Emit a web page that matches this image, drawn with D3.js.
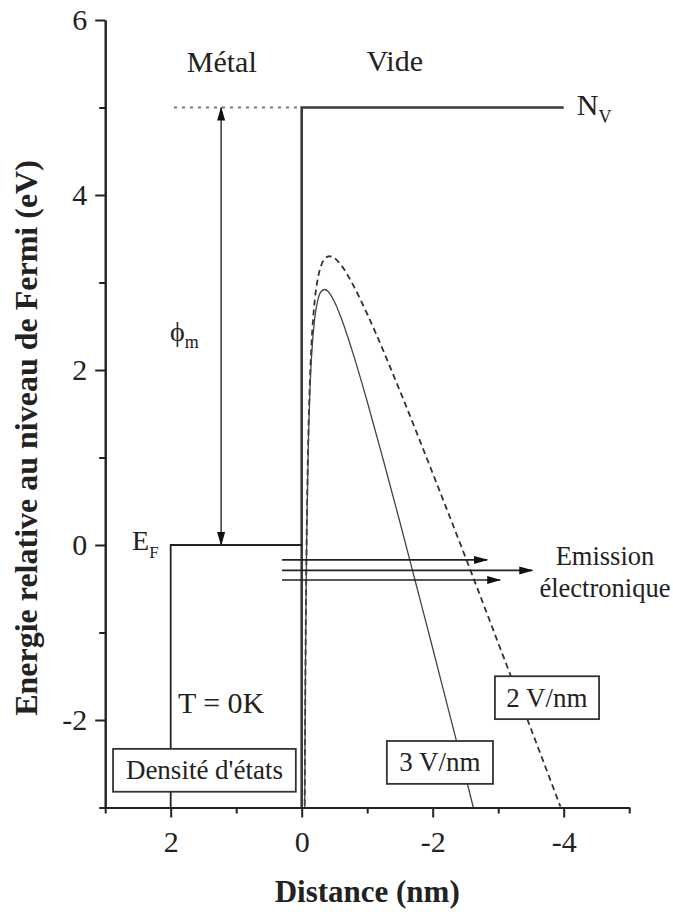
<!DOCTYPE html>
<html>
<head>
<meta charset="utf-8">
<script src="https://cdn.jsdelivr.net/npm/d3@7"></script>
<style>
    body { margin: 0; background: #fff; }
    svg { display: block; }
    svg text { font-family: "Liberation Serif", Tinos, "Times New Roman", Times, "Nimbus Roman", "DejaVu Serif", serif; fill: #222; }
    .axis path, .axis line { stroke: #222; stroke-width: 2; }
    .axis text { font-size: 30px; }
</style>
</head>
<body>
<svg id="chart" width="673" height="912"></svg>
<script>
// axis ticks
const xMajorTicks = [2, 0, -2, -4];
const xMinorTicks = [3, 1, -1, -3, -5];
const yMajorTicks = [-2, 0, 2, 4, 6];
const yMinorTicks = [-3, -1, 1, 3, 5];

// band diagram, [distance nm, energy eV]
const dottedLevel = [[1.95, 5], [0, 5]];
const vacuumStep = [[0, -3], [0, 5], [-4, 5]];
const fermiStep = [[2, -3], [2, 0], [0, 0]];
const phiArrow = [[1.23, 5], [1.23, 0]];

// emission arrows: energy, start, end
const emissionArrows = [
    {e: -0.17, from: 0.3, to: -2.83},
    {e: -0.29, from: 0.3, to: -3.52},
    {e: -0.40, from: 0.3, to: -3.03}
];

// barrier for 3 V/nm (solid)
const barrier3 = [
    [-0.045, -3.14], [-0.05, -2.35], [-0.06, -1.18], [-0.07, -0.35], [-0.08, 0.26],
    [-0.1, 1.10], [-0.125, 1.75], [-0.15, 2.15], [-0.2, 2.60], [-0.25, 2.81],
    [-0.3, 2.90], [-0.35, 2.92], [-0.4, 2.90], [-0.5, 2.78], [-0.6, 2.60],
    [-0.8, 2.15], [-1.0, 1.64], [-1.25, 0.96], [-1.5, 0.26], [-1.75, -0.46],
    [-2.0, -1.18], [-2.25, -1.91], [-2.5, -2.64], [-2.62, -3.0]
];

// barrier for 2 V/nm (dashed)
const barrier2 = [
    [-0.045, -3.09], [-0.05, -2.30], [-0.06, -1.12], [-0.07, -0.28], [-0.08, 0.34],
    [-0.1, 1.20], [-0.125, 1.87], [-0.15, 2.30], [-0.2, 2.80], [-0.25, 3.06],
    [-0.3, 3.20], [-0.35, 3.27], [-0.42, 3.30], [-0.5, 3.28], [-0.6, 3.20],
    [-0.8, 2.95], [-1.0, 2.64], [-1.5, 1.76], [-2.0, 0.82], [-2.5, -0.14],
    [-3.0, -1.12], [-3.5, -2.10], [-3.95, -2.99]
];

const svg = d3.select('#chart');

const xScale = d3.scaleLinear().domain([3, -5]).range([105.2, 629.2]);
const yScale = d3.scaleLinear().domain([-3, 6]).range([807.5, 20]);

const line = d3.line().x(d => xScale(d[0])).y(d => yScale(d[1]));
const curve = d3.line().x(d => xScale(d[0])).y(d => yScale(d[1])).curve(d3.curveMonotoneX);

// arrowhead markers
const defs = svg.append('defs');
defs.append('marker')
    .attr('id', 'head')
    .attr('markerUnits', 'userSpaceOnUse')
    .attr('viewBox', '0 -5 14 10')
    .attr('markerWidth', 14).attr('markerHeight', 10)
    .attr('refX', 13).attr('refY', 0)
    .attr('orient', 'auto-start-reverse')
    .append('path').attr('d', 'M0,-4L14,0L0,4Z').attr('fill', '#111');

defs.append('clipPath').attr('id', 'plot-clip')
    .append('rect')
    .attr('x', xScale(3)).attr('y', yScale(6))
    .attr('width', xScale(-5) - xScale(3)).attr('height', yScale(-3) - yScale(6));

const content = svg.append('g').attr('clip-path', 'url(#plot-clip)');

// work function reference
content.append('path').attr('d', line(dottedLevel))
    .attr('fill', 'none').attr('stroke', '#777').attr('stroke-width', 2)
    .attr('stroke-dasharray', '3,5');

content.append('path').attr('d', line(vacuumStep))
    .attr('fill', 'none').attr('stroke', '#3a3a3a').attr('stroke-width', 2.6);

content.append('path').attr('d', line(fermiStep))
    .attr('fill', 'none').attr('stroke', '#222').attr('stroke-width', 1.8);

// barriers
content.append('path').attr('d', curve(barrier2))
    .attr('fill', 'none').attr('stroke', '#333').attr('stroke-width', 1.8)
    .attr('stroke-dasharray', '6,4');
content.append('path').attr('d', curve(barrier3))
    .attr('fill', 'none').attr('stroke', '#444').attr('stroke-width', 1.3);

// phi_m arrow
svg.append('path').attr('d', line(phiArrow))
    .attr('fill', 'none').attr('stroke', '#444').attr('stroke-width', 1.6)
    .attr('marker-start', 'url(#head)').attr('marker-end', 'url(#head)');

// emission arrows
svg.selectAll('.emission')
    .data(emissionArrows)
    .join('line')
    .attr('class', 'emission')
    .attr('x1', d => xScale(d.from)).attr('x2', d => xScale(d.to))
    .attr('y1', d => yScale(d.e)).attr('y2', d => yScale(d.e))
    .attr('stroke', '#222').attr('stroke-width', 1.6)
    .attr('marker-end', 'url(#head)');

// axes
function drawAxis(axis, cls, transform) {
    const g = svg.append('g').attr('class', 'axis ' + cls).attr('transform', transform).call(axis);
    g.attr('font-family', null);
    return g;
}

const fmt = d => String(d);

const xAxisY = yScale(-3);
drawAxis(d3.axisBottom(xScale).tickValues(xMinorTicks).tickSize(6).tickSizeOuter(0).tickFormat(''),
    'x-minor', `translate(0, ${xAxisY})`);
drawAxis(d3.axisBottom(xScale).tickValues(xMajorTicks).tickSize(10).tickSizeOuter(0).tickPadding(13).tickFormat(fmt),
    'x-major', `translate(0, ${xAxisY})`);

const yAxisX = xScale(3);
drawAxis(d3.axisLeft(yScale).tickValues(yMinorTicks).tickSize(6).tickSizeOuter(0).tickFormat(''),
    'y-minor', `translate(${yAxisX}, 0)`);
drawAxis(d3.axisLeft(yScale).tickValues(yMajorTicks).tickSize(10).tickSizeOuter(0).tickPadding(8).tickFormat(fmt),
    'y-major', `translate(${yAxisX}, 0)`);

// axis titles
svg.append('text')
    .attr('x', (xScale(3) + xScale(-5)) / 2).attr('y', 902)
    .attr('text-anchor', 'middle')
    .style('font-size', '31px').style('font-weight', 'bold')
    .text('Distance (nm)');

svg.append('text')
    .attr('transform', `translate(37, 438) rotate(-90)`)
    .attr('text-anchor', 'middle')
    .style('font-size', '32px').style('font-weight', 'bold')
    .text('Energie relative au niveau de Fermi (eV)');

// annotations
function label(d, e, txt, size, anchor) {
    return svg.append('text')
        .attr('x', xScale(d)).attr('y', yScale(e))
        .attr('text-anchor', anchor || 'start')
        .style('font-size', size + 'px')
        .text(txt);
}

label(1.22, 5.41, 'Métal', 30, 'middle');
label(-1.42, 5.42, 'Vide', 30, 'middle');
label(1.89, -1.92, 'T = 0K', 30);
label(-4.63, -0.23, 'Emission', 26.5, 'middle');
label(-4.63, -0.59, 'électronique', 26.5, 'middle');

const nv = label(-4.2, 4.91, 'N', 30);
nv.append('tspan').attr('dy', 8).style('font-size', '18px').text('V');

const ef = label(2.59, -0.06, 'E', 28);
ef.append('tspan').attr('dy', 8).style('font-size', '17px').text('F');

const phi = label(2.01, 2.33, 'ϕ', 28);
phi.append('tspan').attr('dy', 7).style('font-size', '18px').text('m');

// boxed labels
function boxLabel(d0, d1, e0, e1, txt, size) {
    const x0 = xScale(d0), x1 = xScale(d1), y0 = yScale(e0), y1 = yScale(e1);
    svg.append('rect')
        .attr('x', x0).attr('y', y0)
        .attr('width', x1 - x0).attr('height', y1 - y0)
        .attr('fill', '#fff').attr('stroke', '#333').attr('stroke-width', 1.8);
    svg.append('text')
        .attr('x', (x0 + x1) / 2).attr('y', (y0 + y1) / 2)
        .attr('dy', '0.33em')
        .attr('text-anchor', 'middle')
        .style('font-size', size + 'px')
        .text(txt);
}

boxLabel(2.88, 0.09, -2.33, -2.82, "Densité d'états", 27);
boxLabel(-2.95, -4.54, -1.50, -1.99, '2 V/nm', 27);
boxLabel(-1.30, -2.92, -2.24, -2.73, '3 V/nm', 27);
</script>
</body>
</html>
